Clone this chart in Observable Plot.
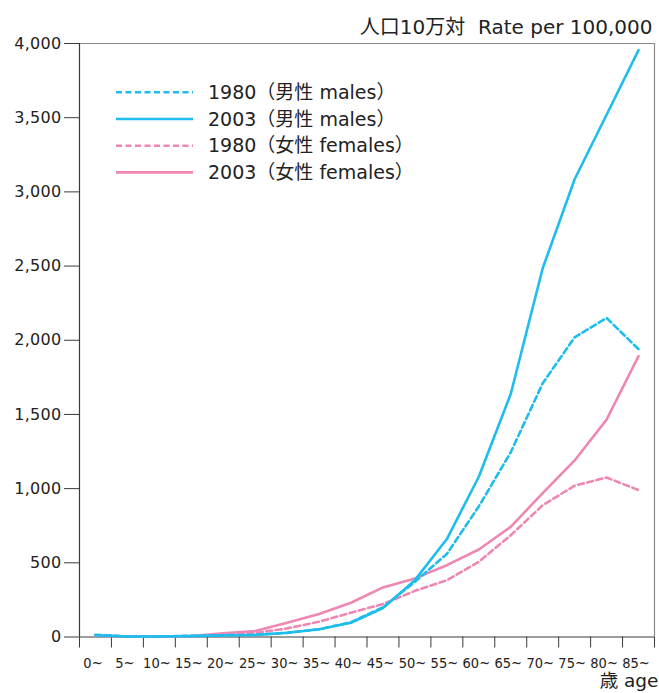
<!DOCTYPE html>
<html>
<head>
<meta charset="utf-8">
<script src="https://cdn.jsdelivr.net/npm/d3@7"></script>
<script src="https://cdn.jsdelivr.net/npm/@observablehq/plot@0.6"></script>
<style>
  html, body { margin: 0; padding: 0; background: white; }
  #chart { width: 659px; height: 693px; }
  g[aria-label="y-axis tick label"] text { letter-spacing: 0.3px; }
</style>
</head>
<body>
<div id="chart"></div>
<script>
// Age groups (x categories)
const ages = ["0~","5~","10~","15~","20~","25~","30~","35~","40~","45~","50~","55~","60~","65~","70~","75~","80~","85~"];

// Rate per 100,000
const male1980   = [15, 3, 4, 8, 12, 15, 28, 52, 100, 200, 372, 560, 880, 1245, 1710, 2020, 2150, 1940];
const male2003   = [12, 3, 3, 6, 10, 13, 29, 52, 96, 195, 383, 660, 1080, 1638, 2485, 3085, 3520, 3955];
const female1980 = [12, 3, 3, 6, 12, 27, 58, 103, 164, 222, 311, 383, 507, 686, 888, 1020, 1075, 990];
const female2003 = [10, 3, 3, 7, 25, 40, 96, 155, 231, 334, 395, 484, 590, 742, 970, 1190, 1465, 1893];

// Series labels
const seriesLabels = ["1980（男性 males）", "2003（男性 males）", "1980（女性 females）", "2003（女性 females）"];
const yTicks = [0, 500, 1000, 1500, 2000, 2500, 3000, 3500, 4000];
const titleText = "人口10万対  Rate per 100,000";
const xAxisTitle = "歳 age";

const CYAN = "#1fbdeb";
const PINK = "#ee87b4";
const DASH = "6,3.5";

const series = [
  {label: seriesLabels[0], values: male1980,   color: CYAN, dash: DASH},
  {label: seriesLabels[1], values: male2003,   color: CYAN, dash: null},
  {label: seriesLabels[2], values: female1980, color: PINK, dash: DASH},
  {label: seriesLabels[3], values: female2003, color: PINK, dash: null}
];

const rows = series.flatMap(s => s.values.map((v, i) => ({series: s.label, i, age: ages[i], value: v})));

const FONT = "'DejaVu Sans', 'Noto Sans CJK JP', sans-serif";
const AXIS = "#3a3a3a";
const FRAME = "#8a8a8a";

const drawOrder = [2, 3, 0, 1];

const plot = Plot.plot({
  width: 659,
  height: 693,
  marginLeft: 79,
  marginRight: 5,
  marginTop: 43,
  marginBottom: 56.5,
  style: {fontFamily: FONT, fontSize: "15px", color: "#222", background: "white", overflow: "visible"},
  x: {type: "linear", domain: [0, ages.length]},
  y: {domain: [0, 4000]},
  marks: [
    Plot.ruleY([4000], {stroke: FRAME, strokeWidth: 1.2}),
    Plot.ruleX([ages.length], {stroke: FRAME, strokeWidth: 1.2}),
    Plot.axisY(yTicks, {tickSize: 15, tickPadding: 3, tickFormat: d3.format(","), label: null, stroke: AXIS, fill: "#222", fontSize: 16, fontFamily: FONT}),
    Plot.axisX(d3.range(ages.length + 1), {tickSize: 11, tickFormat: () => "", label: null, stroke: AXIS}),
    Plot.ruleX([0], {stroke: AXIS, strokeWidth: 1.2}),
    Plot.ruleY([0], {stroke: AXIS, strokeWidth: 1.2}),
    ...drawOrder.map(k => {
      const s = series[k];
      return Plot.line(rows.filter(r => r.series === s.label), {
        x: d => d.i + 0.5,
        y: "value",
        stroke: s.color,
        strokeWidth: 2.6,
        strokeDasharray: s.dash,
        strokeLinejoin: "round"
      });
    }),
    Plot.text(ages, {
      x: (d, i) => i + 0.5, y: () => 0, text: d => d,
      dy: 26.5, dx: -2.5, fontSize: 14.5, fontFamily: "'DejaVu Sans Condensed', 'DejaVu Sans', sans-serif", fill: "#222"
    }),
    Plot.text([titleText], {
      frameAnchor: "top-right", text: d => d, textAnchor: "end",
      dx: -2, dy: -24, fontSize: 20, fontFamily: FONT, fill: "#222"
    }),
    Plot.text([xAxisTitle], {
      frameAnchor: "bottom-right", text: d => d, textAnchor: "end",
      dx: 4, dy: 50, fontSize: 18.5, fontFamily: FONT, fill: "#222"
    })
  ]
});

// Legend (inside the plot area, top-left)
const svg = d3.select(plot);
const lg = svg.append("g").attr("class", "legend").attr("text-anchor", "start");
series.forEach((s, k) => {
  const y = 92.3 + 26.7 * k;
  lg.append("line")
    .attr("x1", 116).attr("x2", 193).attr("y1", y).attr("y2", y)
    .attr("stroke", s.color).attr("stroke-width", 2.6)
    .attr("stroke-dasharray", s.dash);
  lg.append("text")
    .attr("x", 208).attr("y", y + 6.6)
    .attr("text-anchor", "start")
    .attr("font-family", FONT).attr("font-size", 19)
    .attr("fill", "#222")
    .text(s.label);
});

document.getElementById("chart").appendChild(plot);
</script>
</body>
</html>
